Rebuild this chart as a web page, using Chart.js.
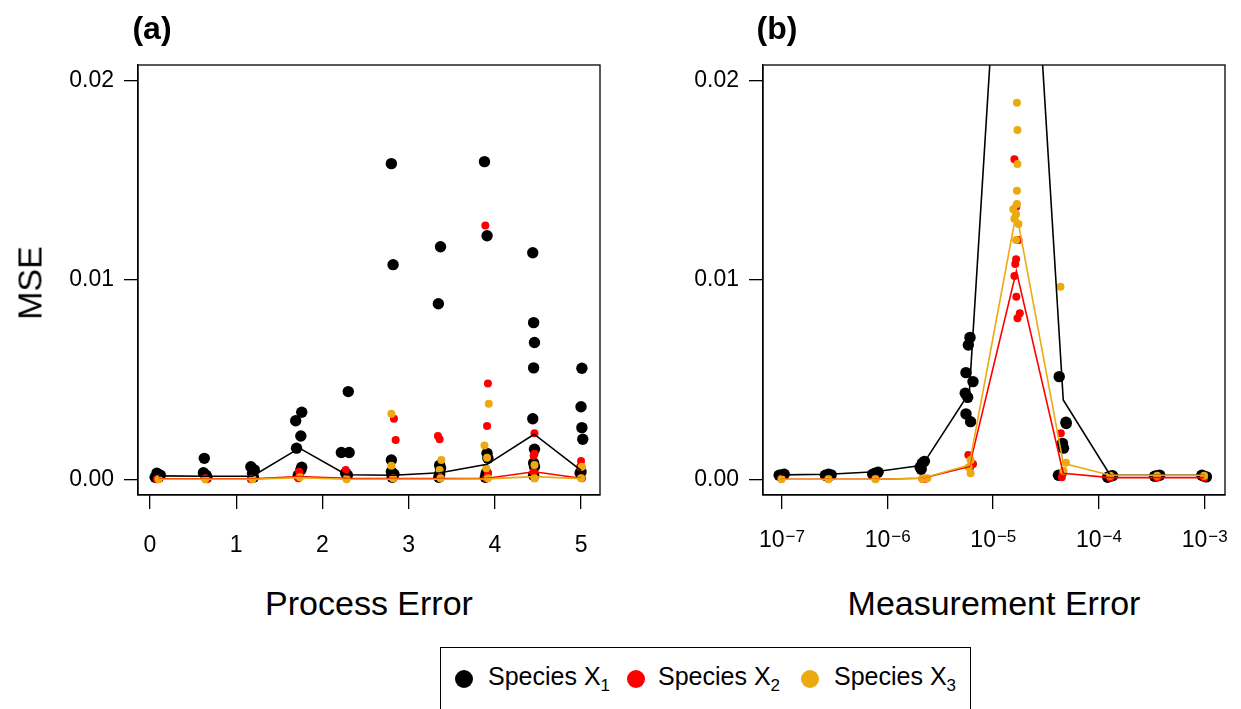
<!DOCTYPE html>
<html>
<head>
<meta charset="utf-8">
<script src="https://cdn.jsdelivr.net/npm/chart.js@4.4.1/dist/chart.umd.min.js"></script>
<style>
body{margin:0;background:#fff;width:1241px;height:709px;overflow:hidden;position:relative;font-family:"Liberation Sans",Arial,sans-serif;color:#000;}
canvas{position:absolute;top:0;}
#ca{left:0}
#cb{left:620px}
.lab{position:absolute;font-size:34px;white-space:nowrap;transform:translate(-50%,-50%);}
.tag{position:absolute;font-size:32px;font-weight:bold;transform:translate(-50%,-50%);}
#legend{position:absolute;left:440px;top:647px;width:531px;height:80px;border:1px solid #000;box-sizing:border-box;}
.dot{position:absolute;width:18px;height:18px;border-radius:50%;top:22px;}
.txt{position:absolute;top:14px;font-size:25px;white-space:nowrap;}
.txt sub{font-size:17px;vertical-align:-6px;line-height:0;}
</style>
</head>
<body>
<canvas id="ca" width="620" height="560"></canvas>
<canvas id="cb" width="621" height="560"></canvas>

<div class="tag" style="left:152px;top:28px">(a)</div>
<div class="tag" style="left:777px;top:28px">(b)</div>
<div class="lab" style="left:30px;top:283px;transform:translate(-50%,-50%) rotate(-90deg)">MSE</div>
<div class="lab" style="left:369px;top:603px">Process Error</div>
<div class="lab" style="left:994px;top:603px">Measurement Error</div>

<div id="legend">
  <div class="dot" style="left:14px;background:#000"></div>
  <div class="txt" style="left:47px">Species X<sub>1</sub></div>
  <div class="dot" style="left:186px;background:#FF0000"></div>
  <div class="txt" style="left:217px">Species X<sub>2</sub></div>
  <div class="dot" style="left:360px;background:#EAAA10"></div>
  <div class="txt" style="left:393px">Species X<sub>3</sub></div>
</div>

<script>
// colours of the three species
var colX1 = '#000000';
var colX2 = '#FF0000';
var colX3 = '#EAAA10';

// ---------- panel (a): process error ----------
var aTicksX = [0, 1, 2, 3, 4, 5];
var aTicksY = [0, 0.01, 0.02];
var aLevels = [0.1, 0.644, 1.189, 1.733, 2.278, 2.822, 3.367, 3.911, 4.456, 5.0];

var aMeanX1 = [0.00017, 0.00015, 0.00015, 0.00156, 0.00023, 0.0002, 0.00033, 0.00075, 0.00226, 0.00045];
var aMeanX2 = [0.00002, 0.00002, 0.00002, 0.00013, 0.00005, 0.00003, 0.00003, 0.00005, 0.00038, 0.00005];
var aMeanX3 = [0.0, 0.0, 0.0, 0.00008, 0.0, 0.0, 0.0, 0.00002, 0.00013, 0.00003];

var aX1x = [0.08, 0.12, 0.10, 0.06,  0.63, 0.62, 0.65, 0.66,  1.17, 1.21, 1.19, 1.20,
  1.76, 1.69, 1.75, 1.70, 1.76, 1.75, 1.72,  2.30, 2.22, 2.31, 2.27, 2.29,
  2.80, 2.82, 2.80, 2.80, 2.83, 2.81,  3.37, 3.345, 3.36, 3.37, 3.36, 3.35,
  3.88, 3.91, 3.91, 3.92, 3.90, 3.89,  4.44, 4.45, 4.46, 4.45, 4.44, 4.46, 4.45, 4.46, 4.45,
  5.01, 5.00, 5.01, 5.02, 5.00, 4.99];
var aX1y = [0.0003, 0.0002, 0.0001, 0.0001,  0.00105, 0.00033, 0.0002, 0.0001,  0.00063, 0.00047, 0.0003, 0.0001,
  0.00336, 0.00294, 0.00217, 0.00156, 0.0006, 0.00047, 0.0002,  0.0044, 0.00134, 0.00134, 0.0003, 0.0002,
  0.01584, 0.01077, 0.00097, 0.00038, 0.00025, 0.0001,  0.01167, 0.00881, 0.0007, 0.00055, 0.00025, 0.0001,
  0.01594, 0.01222, 0.0013, 0.00105, 0.0003, 0.0001,  0.01137, 0.00786, 0.00686, 0.00559, 0.00304, 0.00151, 0.00082, 0.00064, 0.0002,
  0.00557, 0.00364, 0.00259, 0.00201, 0.00038, 0.0003];

var aX2x = [0.10, 0.08,  0.64, 0.66,  1.19, 1.17,  1.73, 1.74, 1.72,  2.27, 2.28,  2.83, 2.85, 2.82,
  3.34, 3.36, 3.37,  3.89, 3.92, 3.91, 3.92, 3.90,  4.46, 4.46, 4.45, 4.45, 4.46,  5.00, 4.99, 5.01];
var aX2y = [0.00003, 0.0,  0.00005, 0.0,  0.00003, 0.0,  0.00038, 0.0002, 0.00005,  0.00047, 0.00005,  0.00304, 0.00197, 0.00005,
  0.00217, 0.00201, 0.00005,  0.01273, 0.0048, 0.00267, 0.0003, 0.00005,  0.00231, 0.00128, 0.00118, 0.00038, 0.00005,  0.00092, 0.00063, 0.00005];

var aX3x = [0.10, 0.64, 1.19, 1.74, 2.28,  2.80, 2.80, 2.82,  3.38, 3.36, 3.37,  3.93, 3.88, 3.91, 3.90, 3.92,
  4.46, 4.46,  5.01, 5.00];
var aX3y = [0.0, 0.0, 0.0, 0.0001, 0.0,  0.00329, 0.00068, 0.00005,  0.00097, 0.00047, 0.00005,  0.00379, 0.00169, 0.00108, 0.00055, 0.00005,
  0.00072, 0.00005,  0.00063, 0.00005];

// ---------- panel (b): measurement error ----------
var bTicksX = [1e-7, 1e-6, 1e-5, 1e-4, 1e-3];
var bTickExp = ['\u22127', '\u22126', '\u22125', '\u22124', '\u22123'];
var bTicksY = [0, 0.01, 0.02];
var bLevels = [1e-7, 2.78e-7, 7.74e-7, 2.15e-6, 5.99e-6, 1.67e-5, 4.64e-5, 1.29e-4, 3.59e-4, 1e-3];

var bMeanX1 = [0.00022, 0.00025, 0.00038, 0.0007, 0.00434, 0.0422, 0.00398, 0.0002, 0.0002, 0.0002];
var bMeanX2 = [0.0, 0.0, 0.0, 0.00005, 0.00063, 0.01045, 0.0003, 0.00008, 0.00008, 0.00008];
var bMeanX3 = [0.0, 0.0, 0.0, 0.00005, 0.00072, 0.0134, 0.0008, 0.0002, 0.0002, 0.0002];

var bX1x = [1.0e-7, 0.95e-7, 1.06e-7,  2.78e-7, 2.6e-7, 2.95e-7,  7.7e-7, 8.2e-7, 7.3e-7,  2.15e-6, 2.05e-6, 2.25e-6, 2.1e-6,
  6.08e-6, 5.86e-6, 5.57e-6, 6.49e-6, 5.48e-6, 5.78e-6, 5.57e-6, 6.16e-6,
  4.25e-5, 4.92e-5, 4.56e-5, 4.67e-5, 4.18e-5, 4.95e-5,
  1.29e-4, 1.22e-4, 1.36e-4,  3.59e-4, 3.4e-4, 3.8e-4,  1e-3, 0.95e-3, 1.05e-3];
var bX1y = [0.00022, 0.0002, 0.00025,  0.00025, 0.0002, 0.00022,  0.0003, 0.00035, 0.00025,  0.0008, 0.0006, 0.0009, 0.0005,
  0.00712, 0.00674, 0.00535, 0.0049, 0.00432, 0.00411, 0.00328, 0.00289,
  0.00515, 0.00286, 0.0018, 0.00156, 0.0002, 0.0028,
  0.00015, 0.0001, 0.00018,  0.00018, 0.00015, 0.0002,  0.00015, 0.0002, 0.00012];

var bX2x = [1e-7, 2.78e-7, 7.74e-7, 2.15e-6, 2.3e-6,  5.86e-6, 6.49e-6, 6.1e-6,
  1.60e-5, 1.67e-5, 1.75e-5, 1.66e-5, 1.63e-5, 1.60e-5, 1.67e-5, 1.80e-5, 1.71e-5,
  4.4e-5, 4.6e-5, 4.5e-5,  1.29e-4, 3.59e-4, 1e-3];
var bX2y = [0.00002, 0.00002, 0.00002, 0.00002, 0.00003,  0.00122, 0.00077, 0.0006,
  0.01606, 0.01368, 0.01201, 0.01104, 0.0108, 0.0102, 0.00916, 0.00833, 0.00808,
  0.00231, 0.0003, 0.0001,  0.00008, 0.00008, 0.00008];

var bX3x = [1e-7, 2.78e-7, 7.74e-7, 2.15e-6, 2.4e-6,  6.16e-6, 5.9e-6, 6.16e-6,
  1.69e-5, 1.71e-5, 1.71e-5, 1.69e-5, 1.69e-5, 1.56e-5, 1.66e-5, 1.60e-5, 1.75e-5, 1.66e-5,
  4.37e-5, 4.92e-5, 4.67e-5,  1.29e-4, 3.59e-4, 1e-3];
var bX3y = [0.0, 0.0, 0.0, 0.00003, 0.00005,  0.00097, 0.0006, 0.0003,
  0.0189, 0.01753, 0.01582, 0.01448, 0.01381, 0.01355, 0.0133, 0.01308, 0.01281, 0.01201,
  0.00966, 0.00083, 0.00043,  0.00018, 0.00018, 0.00018];

// ---------- helpers ----------
var fontFam = '"Liberation Sans", Arial, sans-serif';

function pairs(xs, ys) {
  return xs.map(function (x, i) { return {x: x, y: ys[i]}; });
}

function pointSet(xs, ys, col, r) {
  return {data: pairs(xs, ys), backgroundColor: col, borderWidth: 0, pointRadius: r, showLine: false};
}

function lineSet(xs, ys, col) {
  return {data: pairs(xs, ys), borderColor: col, borderWidth: 1.6, pointRadius: 0, showLine: true, fill: false};
}

// box round the plot area, like R's box()
var boxPlugin = {
  id: 'box',
  afterDraw: function (chart) {
    var a = chart.chartArea, c = chart.ctx;
    c.save();
    c.strokeStyle = '#000';
    c.lineWidth = 1.3;
    c.strokeRect(a.left, a.top, a.right - a.left, a.bottom - a.top);
    c.restore();
  }
};

// tick labels 10^k for the log axis
var powerLabels = {
  id: 'powerLabels',
  afterDraw: function (chart) {
    if (chart.canvas.id !== 'cb') return;
    var sc = chart.scales.x, c = chart.ctx;
    var base = chart.chartArea.bottom + 52;
    c.save();
    c.fillStyle = '#000';
    c.textBaseline = 'alphabetic';
    c.textAlign = 'left';
    bTicksX.forEach(function (v, i) {
      var px = sc.getPixelForValue(v);
      c.font = '23px ' + fontFam;
      var w1 = c.measureText('10').width;
      c.font = '17px ' + fontFam;
      var w2 = c.measureText(bTickExp[i]).width;
      var x0 = px - (w1 + w2) / 2;
      c.font = '23px ' + fontFam;
      c.fillText('10', x0, base);
      c.font = '17px ' + fontFam;
      c.fillText(bTickExp[i], x0 + w1 + 1, base - 5);
    });
    c.restore();
  }
};

function yScale(ticks, w) {
  return {
    min: -0.00079, max: 0.02079,
    afterBuildTicks: function (s) { s.ticks = ticks.map(function (v) { return {value: v}; }); },
    afterFit: function (s) { s.width = w; },
    ticks: {color: '#000', font: {size: 23, family: fontFam}, padding: 10,
      callback: function (v) { return v.toFixed(2); }},
    grid: {drawOnChartArea: false, drawTicks: true, tickLength: 14, color: '#000', lineWidth: 1.3},
    border: {display: true, color: '#000', width: 1.3}
  };
}

function baseOptions(xScale, yS, rightPad) {
  return {
    responsive: false,
    animation: false,
    devicePixelRatio: 1,
    layout: {padding: {left: 0, top: 65, right: rightPad, bottom: 0}},
    plugins: {legend: {display: false}, tooltip: {enabled: false}},
    scales: {x: xScale, y: yS}
  };
}

// panel (a)
new Chart(document.getElementById('ca'), {
  type: 'scatter',
  data: {datasets: [
    lineSet(aLevels, aMeanX3, colX3),
    lineSet(aLevels, aMeanX2, colX2),
    lineSet(aLevels, aMeanX1, colX1),
    pointSet(aX3x, aX3y, colX3, 4),
    pointSet(aX2x, aX2y, colX2, 4),
    pointSet(aX1x, aX1y, colX1, 5.7)
  ]},
  options: baseOptions({
    type: 'linear', min: -0.139, max: 5.22,
    afterBuildTicks: function (s) { s.ticks = aTicksX.map(function (v) { return {value: v}; }); },
    afterFit: function (s) { s.height = 65; },
    ticks: {color: '#000', font: {size: 23, family: fontFam}, padding: 23, maxRotation: 0},
    grid: {drawOnChartArea: false, drawTicks: true, tickLength: 14, color: '#000', lineWidth: 1.3},
    border: {display: true, color: '#000', width: 1.3}
  }, yScale(aTicksY, 138), 20),
  plugins: [boxPlugin]
});

// panel (b)
new Chart(document.getElementById('cb'), {
  type: 'scatter',
  data: {datasets: [
    lineSet(bLevels, bMeanX3, colX3),
    lineSet(bLevels, bMeanX2, colX2),
    lineSet(bLevels, bMeanX1, colX1),
    pointSet(bX3x, bX3y, colX3, 4),
    pointSet(bX2x, bX2y, colX2, 4),
    pointSet(bX1x, bX1y, colX1, 5.7)
  ]},
  options: baseOptions({
    type: 'logarithmic', min: 6.68e-8, max: 1.575e-3,
    afterBuildTicks: function (s) { s.ticks = bTicksX.map(function (v) { return {value: v}; }); },
    afterFit: function (s) { s.height = 65; },
    ticks: {display: false},
    grid: {drawOnChartArea: false, drawTicks: true, tickLength: 14, color: '#000', lineWidth: 1.3},
    border: {display: true, color: '#000', width: 1.3}
  }, yScale(bTicksY, 143), 16),
  plugins: [boxPlugin, powerLabels]
});
</script>
</body>
</html>
